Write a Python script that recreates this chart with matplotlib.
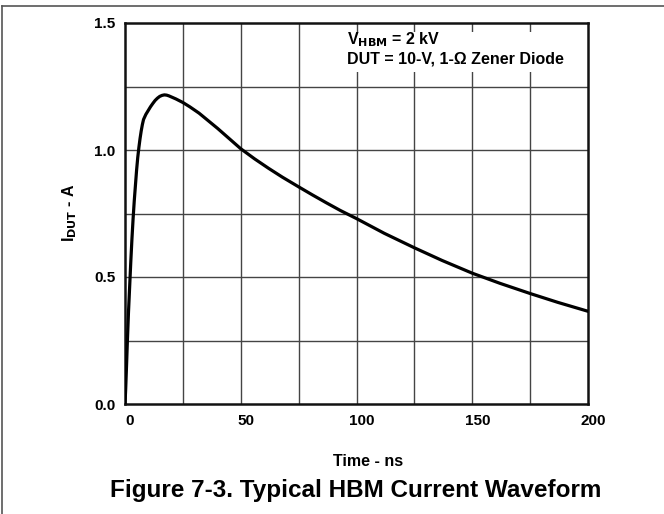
import numpy as np
import matplotlib.pyplot as plt
from matplotlib.lines import Line2D
from matplotlib.patches import Rectangle
import matplotlib.transforms as mtransforms

plt.rcParams['font.family'] = ['Liberation Sans', 'DejaVu Sans']
plt.rcParams['font.weight'] = 'bold'

# Waveform (time in ns, current in A)
time_ns = [0, 0.3, 0.7, 1, 1.5, 2, 2.5, 3, 3.5, 4, 4.5, 5, 5.5, 6, 6.5,
           7, 7.5, 8, 9, 10, 11, 12, 13, 14, 15, 16, 17, 18, 19, 20, 22,
           25, 28, 32, 36, 40, 45, 50, 56, 62, 68, 75, 81, 87, 93, 100, 112,
           125, 137, 150, 162, 175, 187, 200]
current_a = [0, 0.06, 0.16, 0.24, 0.36, 0.46, 0.56, 0.65, 0.73, 0.80,
             0.86, 0.92, 0.97, 1.01, 1.045, 1.075, 1.10, 1.12, 1.14, 1.155,
             1.17, 1.183, 1.195, 1.204, 1.211, 1.215, 1.217, 1.216, 1.213,
             1.209, 1.201, 1.187, 1.17, 1.145, 1.115, 1.085, 1.045, 1.005,
             0.965, 0.928, 0.893, 0.855, 0.823, 0.792, 0.762, 0.73, 0.672,
             0.615, 0.565, 0.515, 0.475, 0.435, 0.4, 0.365]

x_ticks = [0, 50, 100, 150, 200]
y_ticks = [0.0, 0.5, 1.0, 1.5]
x_grid = [25, 50, 75, 100, 125, 150, 175]
y_grid = [0.25, 0.5, 0.75, 1.0, 1.25]

fig = plt.figure(figsize=(6.64, 5.14), dpi=100)
ax = fig.add_axes([125/664, 1 - 404/514, 463/664, 381/514])

for xg in x_grid:
    ax.axvline(xg, color='#444444', lw=1.0, zorder=1)
for yg in y_grid:
    ax.axhline(yg, color='#444444', lw=1.0, zorder=1)

ax.plot(time_ns, current_a, color='black', lw=2.3, zorder=3,
        solid_capstyle='round', solid_joinstyle='round')

ax.set_xlim(0, 200)
ax.set_ylim(0, 1.5)
ax.set_xticks(x_ticks)
ax.set_yticks(y_ticks)
ax.set_yticklabels(['0.0', '0.5', '1.0', '1.5'])
ax.tick_params(length=0, labelsize=11, pad=7)
for lab in ax.get_xticklabels():
    lab.set_transform(lab.get_transform() +
                      mtransforms.ScaledTranslation(5/100, 0, fig.dpi_scale_trans))
for sp in ax.spines.values():
    sp.set_linewidth(1.8)
    sp.set_color('#111111')

# condition note on a white patch over the grid
ax.add_patch(Rectangle((0.464, 0.872), 0.527, 0.105, transform=ax.transAxes,
                       facecolor='white', edgecolor='none', zorder=2))
ax.text(0.4795, 0.943, r'V$_{\mathbf{HBM}}$ = 2 kV', transform=ax.transAxes,
        fontsize=11.5, fontweight='bold', va='baseline', ha='left', zorder=2.5)
ax.text(0.4795, 0.893, 'DUT = 10-V, 1-\u03a9 Zener Diode', transform=ax.transAxes,
        fontsize=11.5, fontweight='bold', va='baseline', ha='left', zorder=2.5)

fig.text(368/664, 1 - 461/514, 'Time - ns', ha='center', va='center',
         fontsize=11.5, fontweight='bold')
fig.text(70/664, 1 - 213/514, r'I$_{\mathbf{DUT}}$ - A', ha='center',
         va='center', rotation=90, fontsize=11.5, fontweight='bold')
fig.text(356/664, 1 - 491/514, 'Figure 7-3. Typical HBM Current Waveform',
         ha='center', va='center', fontsize=17.5, fontweight='bold')

# page border (top and left edges)
fig.add_artist(Line2D([1.5/664, 1], [1 - 6/514, 1 - 6/514], color='#555555', lw=1.2))
fig.add_artist(Line2D([1.5/664, 1.5/664], [0, 1 - 6/514], color='#555555', lw=1.2))

fig.savefig('out.png', dpi=100)
